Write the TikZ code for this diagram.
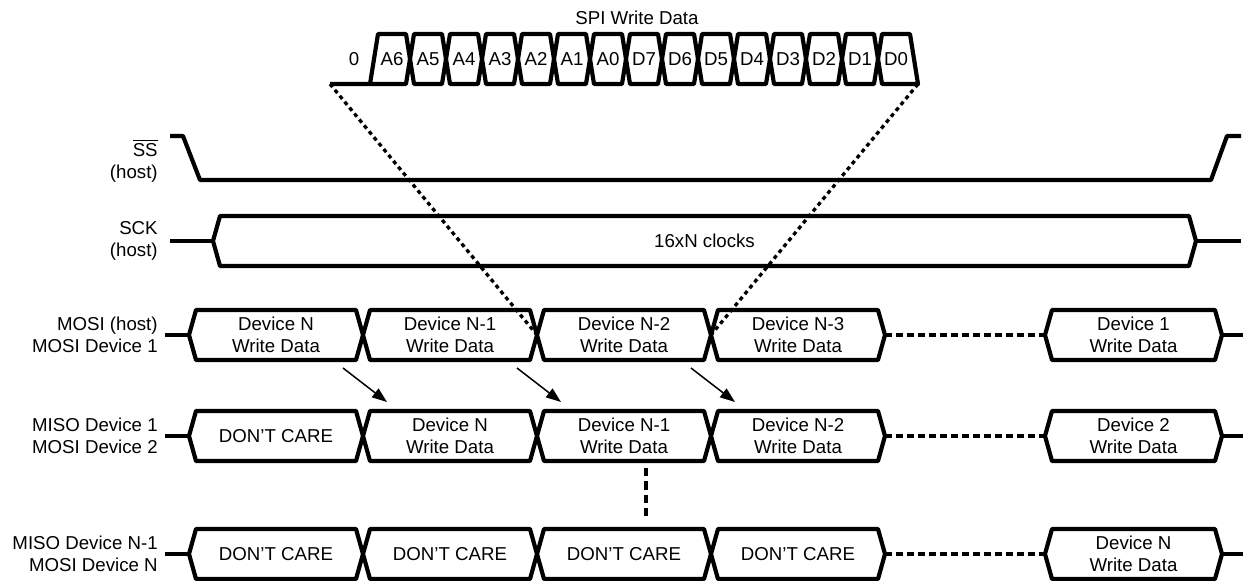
\documentclass[tikz,border=0pt]{standalone}
\usepackage{fontspec}
\setmainfont{Liberation Sans}
\usetikzlibrary{arrows.meta, calc}

\newcommand{\busseg}[6][7]{%
  \draw[sig] (#2,#4) -- ({#2+#1},{#4-25}) -- ({#3-#1},{#4-25}) -- (#3,#4)
    -- ({#3-#1},{#4+25}) -- ({#2+#1},{#4+25}) -- cycle;
  \coordinate (#6-l) at (#2,#4);
  \coordinate (#6-r) at (#3,#4);
  \node[txt] (#6) at ({(#2+#3)/2},#4) {#5};}

\begin{document}
\begin{tikzpicture}[x=0.6pt, y=-0.6pt,
    sig/.style={line width=2.5pt, line join=round},
    txt/.style={font=\fontsize{11.2}{13.5}\selectfont, align=center, inner sep=0pt},
    side/.style={txt, anchor=east, align=right},
    dots/.style={line width=2.6pt, dash pattern=on 4pt off 2.6pt},
    vdots/.style={line width=2.6pt, dash pattern=on 5pt off 3pt},
    zoomline/.style={line width=2pt, dash pattern=on 2.4pt off 2.2pt},
    arr/.style={line width=0.9pt, -{Triangle[length=9pt, width=6.5pt]}}]
    \useasboundingbox (0,0) rectangle (1254,581);

    \node[txt] (title) at (637,18) {SPI Write Data};
    \node[txt] (zero) at (354,59) {0};
    \coordinate (zl) at (330,84);
    \coordinate (zr) at (918,84);
    \draw[sig] (zl) -- (370,84) -- (378,34) -- (406,34) -- (410,59) -- (406,84) -- (370,84);
    \node[txt] (bitA6) at (392,59) {A6};
    \foreach \t [count=\i] in {A5,A4,A3,A2,A1,A0,D7,D6,D5,D4,D3,D2,D1}
        {\busseg[4]{374+36*\i}{410+36*\i}{59}{\t}{bit\t}}
    \draw[sig] (878,59) -- (882,34) -- (910,34) -- (zr) -- (882,84) -- cycle;
    \node[txt] (bitD0) at (896,59) {D0};

    \node[side] (ssl) at (158,161) {$\overline{\mbox{SS}}$\\(host)};
    \draw[sig] (170,136) -- (183,136) -- (200,180) -- (1211,180) -- (1227,136) -- (1241,136);

    \node[side] (sckl) at (158,241) {SCK\\(host)};
    \busseg{213}{1196}{241}{16xN clocks}{sck}
    \draw[sig] (170,241) -- (sck-l) (sck-r) -- (1241,241);

    \node[side] (mosil) at (158,335) {MOSI (host)\\MOSI Device 1};
    \foreach \a/\t [count=\i] in {189/N, 363/N-1, 537/N-2, 711/N-3}
        {\busseg{\a}{\a+174}{335}{Device \t\\Write Data}{mosi\i}}
    \busseg{1045}{1222}{335}{Device 1\\Write Data}{mosi5}
    \draw[sig] (165,335) -- (mosi1-l) (mosi5-r) -- (1243,335);
    \draw[dots] (mosi4-r) -- (mosi5-l);

    \node[side] (misol) at (158,436) {MISO Device 1\\MOSI Device 2};
    \foreach \a/\t [count=\i] in {189/{DON’T CARE}, 363/{Device N\\Write Data}, 537/{Device N-1\\Write Data}, 711/{Device N-2\\Write Data}}
        {\busseg{\a}{\a+174}{436}{\t}{miso\i}}
    \busseg{1045}{1222}{436}{Device 2\\Write Data}{miso5}
    \draw[sig] (165,436) -- (miso1-l) (miso5-r) -- (1243,436);
    \draw[dots] (miso4-r) -- (miso5-l);

    \node[side] (lastl) at (158,554) {MISO Device N-1\\MOSI Device N};
    \foreach \a [count=\i] in {189,363,537,711}
        {\busseg{\a}{\a+174}{554}{DON’T CARE}{last\i}}
    \busseg{1045}{1222}{554}{Device N\\Write Data}{last5}
    \draw[sig] (165,554) -- (last1-l) (last5-r) -- (1243,554);
    \draw[dots] (last4-r) -- (last5-l);

    \foreach \i in {1,2,3}
        \draw[arr] ($(mosi\i-r)+(-20,33)$) -- ($(miso\i-r)+(24,-34)$);
    \draw[zoomline] (zl) -- (mosi2-r) (zr) -- (mosi3-r);
    \draw[vdots] ($(miso3)+(22,32)$) -- ($(last3)+(22,-34)$);
\end{tikzpicture}
\end{document}
